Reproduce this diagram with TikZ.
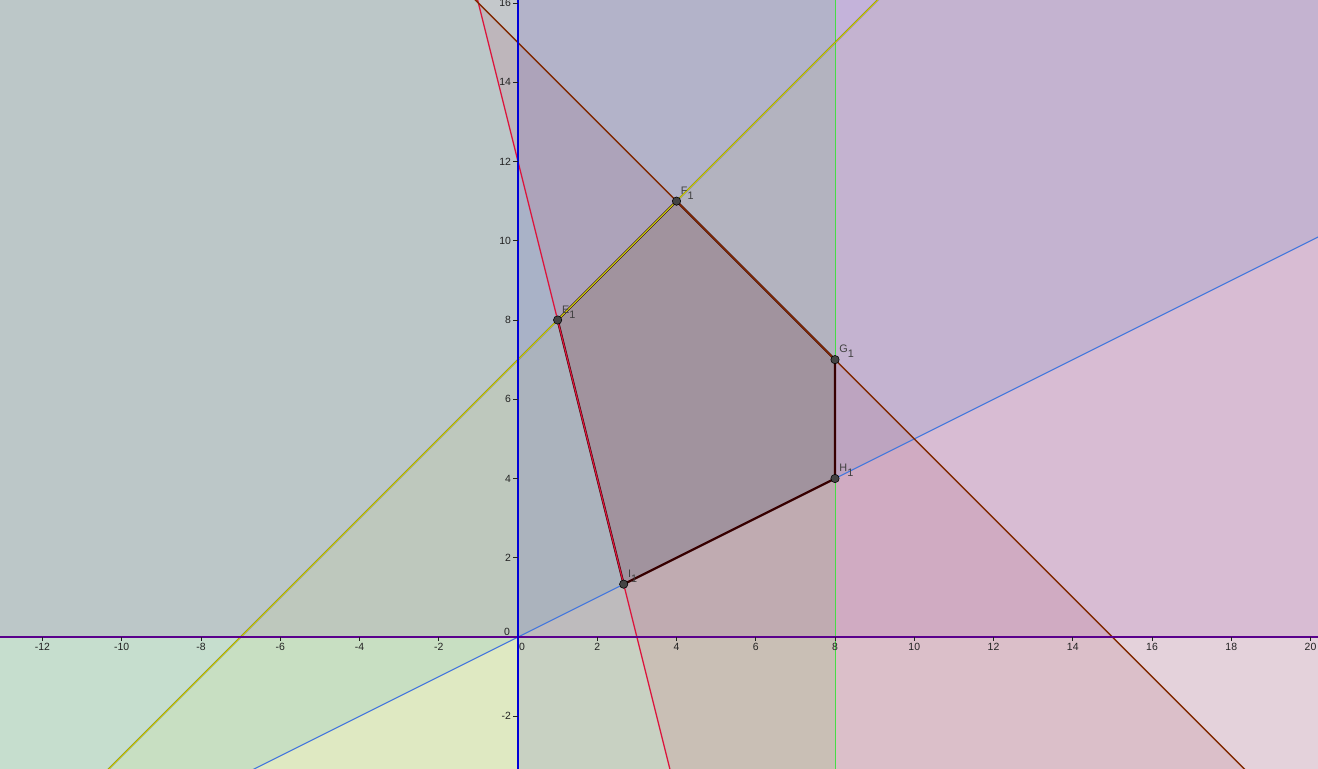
\documentclass[tikz,border=0pt]{standalone}
\usepackage{fontspec}
\setmainfont{Liberation Sans}
\definecolor{cg}{RGB}{0,255,0}
\definecolor{cbr}{RGB}{151,38,20}
\definecolor{cyl}{RGB}{255,255,0}
\definecolor{cbl}{RGB}{0,140,200}
\definecolor{cv}{RGB}{0,0,200}
\definecolor{cp}{RGB}{102,0,153}
\definecolor{cr}{RGB}{220,20,60}
\definecolor{polyfill}{RGB}{40,0,0}
\definecolor{polyedge}{RGB}{55,0,0}
\definecolor{lbrown}{RGB}{128,40,0}
\definecolor{lyellowdark}{RGB}{60,60,20}
\definecolor{lblue}{RGB}{70,120,220}
\definecolor{lgreen}{RGB}{70,220,70}
\definecolor{lpurple}{RGB}{90,0,140}
\definecolor{laxis}{RGB}{0,0,215}
\definecolor{ptfill}{RGB}{68,68,68}
\definecolor{lbl}{RGB}{64,64,64}
\definecolor{tick}{RGB}{34,34,34}
\begin{document}
\begin{tikzpicture}[x=1cm,y=1cm,
  ptdot/.style={circle,fill=ptfill,draw=black,line width=0.4pt,inner sep=0pt,minimum size=6pt},
  ptlabel/.style={anchor=base west,text=lbl,inner sep=0pt,xshift=3pt,yshift=5pt,font=\fontsize{7.8}{9}\selectfont},
  ticklabel/.style={text=tick,inner sep=0pt,font=\fontsize{7.5}{9}\selectfont}]
\useasboundingbox (-13.073,-3.331) rectangle (20.189,16.076);
\clip (-13.073,-3.331) rectangle (20.189,16.076);
\fill[white] (-13.073,-3.331) rectangle (20.189,16.076);
% points
\coordinate (E) at (1,8);
\coordinate (F) at (4,11);
\coordinate (G) at (8,7);
\coordinate (H) at (8,4);
\coordinate (I) at (2.6667,1.3333);
% line end points
\coordinate (ya) at (-14,-7);  \coordinate (yb) at (21,28);
\coordinate (ra) at (-2,20);   \coordinate (rb) at (5.5,-10);
\coordinate (ba) at (-14,29);  \coordinate (bb) at (21,-6);
\coordinate (la) at (-14,-7);  \coordinate (lb) at (21,10.5);
\coordinate (ga) at (8,-10);   \coordinate (gb) at (8,20);
\coordinate (xa) at (-14,0);   \coordinate (xb) at (21,0);
\coordinate (va) at (0,-10);   \coordinate (vb) at (0,20);
% half-plane shadings
\fill[cg,fill opacity=.1] (-14,-10) rectangle (8,20);
\fill[cbr,fill opacity=.1] (ba) -- (bb) -- (21,-10) -- (-14,-10) -- cycle;
\fill[cyl,fill opacity=.06] (ya) -- (yb) -- (21,-10) -- (-14,-10) -- cycle;
\fill[cbl,fill opacity=.1] (la) -- (lb) -- (21,20) -- (-14,20) -- cycle;
\fill[cv,fill opacity=.1] (va) rectangle (21,20);
\fill[cp,fill opacity=.1] (xa) rectangle (21,20);
\fill[cr,fill opacity=.09] (ra) -- (rb) -- (21,-10) -- (21,20) -- cycle;
% polygon fill
\fill[polyfill,fill opacity=.1] (E) -- (F) -- (G) -- (H) -- (I) -- cycle;
% lines below polygon border
\draw[lgreen,line width=0.5pt] (ga) -- (gb);
\draw[lblue,line width=0.8pt] (la) -- (lb);
% polygon border
\draw[polyedge,line width=1.6pt,line join=round] (E) -- (F) -- (G) -- (H) -- (I) -- cycle;
% lines on top
\draw[cr,line width=0.9pt] (ra) -- (rb);
\draw[lbrown,line width=1.1pt] (ba) -- (bb);
\draw[lyellowdark,line width=0.95pt] (ya) -- (yb);
\draw[cyl,line width=0.55pt] (ya) -- (yb);
% axes
\draw[lpurple,line width=0.8pt] (xa) -- (xb);
\draw[laxis,line width=1.8pt] (va) -- (vb);
% ticks and labels
\foreach \t in {-12,-10,-8,-6,-4,-2,2,4,6,8,10,12,14,16,18,20}{
  \draw[tick,line width=0.5pt] (\t,0) -- (\t,-0.1);
  \node[ticklabel,anchor=north] (tx\t) at (\t,-0.15) {\t};
}
\foreach \t in {-2,2,4,6,8,10,12,14,16}{
  \draw[tick,line width=0.5pt] (0,\t) -- (-0.13,\t);
  \node[ticklabel,anchor=east] (ty\t) at (-0.17,\t) {\t};
}
\node[ticklabel,anchor=east] (tyz) at (-0.2,0.14) {0};
\node[ticklabel,anchor=north] (txz) at (0.1,-0.15) {0};
% points
\node[ptdot] (pE) at (E) {};
\node[ptdot] (pF) at (F) {};
\node[ptdot] (pG) at (G) {};
\node[ptdot] (pH) at (H) {};
\node[ptdot] (pI) at (I) {};
\node[ptlabel] (lE) at (E) {E\raisebox{-3.6pt}{1}};
\node[ptlabel] (lF) at (F) {F\raisebox{-3.6pt}{1}};
\node[ptlabel] (lG) at (G) {G\raisebox{-3.6pt}{1}};
\node[ptlabel] (lH) at (H) {H\raisebox{-3.6pt}{1}};
\node[ptlabel] (lI) at (I) {I\raisebox{-3.6pt}{1}};
\end{tikzpicture}
\end{document}
